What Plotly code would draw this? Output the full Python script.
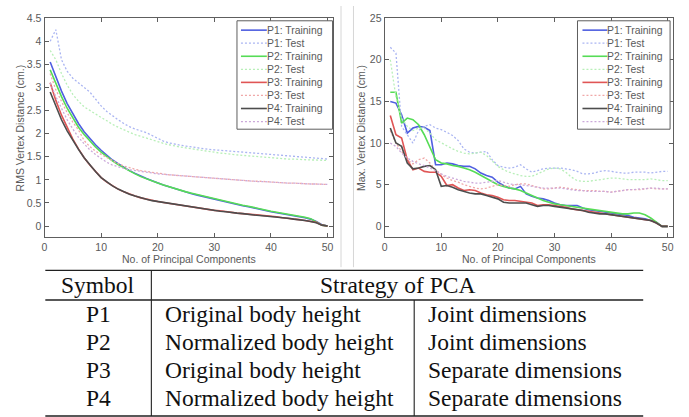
import plotly.graph_objects as go

W, H = 689, 417

# ---------------- data ----------------
n_components = list(range(1, 51))

rms_p1_train = [3.55, 3.22, 2.92, 2.65, 2.42, 2.22, 2.04, 1.89, 1.76, 1.64,
                1.53, 1.43, 1.35, 1.27, 1.20, 1.14, 1.08, 1.03, 0.98, 0.93,
                0.89, 0.85, 0.81, 0.77, 0.74, 0.70, 0.67, 0.64, 0.61, 0.58,
                0.55, 0.52, 0.50, 0.47, 0.44, 0.42, 0.39, 0.37, 0.34, 0.31,
                0.29, 0.27, 0.25, 0.23, 0.21, 0.18, 0.15, 0.10, 0.03, 0.00]
rms_p2_train = [3.38, 3.08, 2.80, 2.55, 2.33, 2.14, 1.98, 1.84, 1.71, 1.60,
                1.50, 1.41, 1.33, 1.26, 1.19, 1.13, 1.07, 1.02, 0.97, 0.93,
                0.89, 0.85, 0.81, 0.77, 0.74, 0.71, 0.68, 0.65, 0.62, 0.59,
                0.56, 0.53, 0.51, 0.48, 0.45, 0.43, 0.40, 0.38, 0.35, 0.32,
                0.30, 0.28, 0.26, 0.24, 0.22, 0.19, 0.16, 0.09, 0.02, 0.00]
rms_p3_train = [3.10, 2.72, 2.40, 2.12, 1.88, 1.67, 1.48, 1.32, 1.18, 1.05,
                0.95, 0.87, 0.80, 0.74, 0.69, 0.65, 0.61, 0.58, 0.55, 0.53,
                0.51, 0.49, 0.47, 0.45, 0.43, 0.41, 0.39, 0.37, 0.36, 0.34,
                0.33, 0.31, 0.30, 0.28, 0.27, 0.26, 0.25, 0.23, 0.22, 0.21,
                0.20, 0.18, 0.17, 0.16, 0.14, 0.12, 0.10, 0.08, 0.02, 0.00]
rms_p4_train = [2.90, 2.58, 2.30, 2.06, 1.85, 1.66, 1.48, 1.32, 1.18, 1.05,
                0.95, 0.87, 0.80, 0.74, 0.69, 0.65, 0.61, 0.58, 0.55, 0.53,
                0.51, 0.49, 0.47, 0.45, 0.43, 0.41, 0.39, 0.37, 0.35, 0.34,
                0.32, 0.31, 0.29, 0.28, 0.27, 0.25, 0.24, 0.23, 0.22, 0.21,
                0.19, 0.18, 0.17, 0.15, 0.14, 0.12, 0.10, 0.07, 0.02, 0.00]
rms_p1_test = [4.00, 4.25, 3.60, 3.35, 3.20, 3.10, 3.02, 2.90, 2.75, 2.60,
               2.48, 2.38, 2.30, 2.22, 2.15, 2.10, 2.06, 2.02, 1.96, 1.90,
               1.84, 1.80, 1.77, 1.75, 1.73, 1.71, 1.69, 1.68, 1.66, 1.65,
               1.64, 1.63, 1.62, 1.61, 1.60, 1.59, 1.58, 1.56, 1.55, 1.54,
               1.53, 1.52, 1.51, 1.50, 1.49, 1.48, 1.47, 1.46, 1.45, 1.45]
rms_p2_test = [3.80, 3.60, 3.30, 3.05, 2.85, 2.70, 2.58, 2.50, 2.42, 2.35,
               2.28, 2.20, 2.14, 2.08, 2.03, 1.98, 1.94, 1.90, 1.86, 1.82,
               1.79, 1.76, 1.73, 1.71, 1.69, 1.67, 1.65, 1.63, 1.61, 1.60,
               1.58, 1.57, 1.55, 1.54, 1.53, 1.52, 1.50, 1.49, 1.48, 1.47,
               1.46, 1.46, 1.45, 1.45, 1.44, 1.44, 1.43, 1.43, 1.42, 1.42]
rms_p3_test = [3.30, 2.95, 2.70, 2.45, 2.25, 2.08, 1.85, 1.72, 1.62, 1.55,
               1.48, 1.42, 1.35, 1.30, 1.26, 1.23, 1.20, 1.18, 1.16, 1.14,
               1.12, 1.11, 1.10, 1.09, 1.08, 1.07, 1.06, 1.05, 1.04, 1.03,
               1.02, 1.01, 1.00, 1.00, 0.99, 0.98, 0.97, 0.97, 0.96, 0.95,
               0.95, 0.94, 0.93, 0.93, 0.92, 0.92, 0.91, 0.91, 0.90, 0.90]
rms_p4_test = [3.10, 2.80, 2.55, 2.30, 2.10, 1.92, 1.78, 1.65, 1.55, 1.47,
               1.38, 1.32, 1.28, 1.25, 1.22, 1.20, 1.18, 1.16, 1.14, 1.13,
               1.12, 1.11, 1.10, 1.09, 1.08, 1.07, 1.06, 1.05, 1.04, 1.03,
               1.02, 1.01, 1.00, 0.99, 0.99, 0.98, 0.97, 0.96, 0.96, 0.95,
               0.94, 0.94, 0.93, 0.93, 0.92, 0.92, 0.91, 0.91, 0.90, 0.90]

max_p1_train = [15.0, 14.8, 13.4, 11.2, 11.8, 12.0, 11.9, 11.5, 7.4, 7.4,
                7.6, 7.5, 7.3, 7.2, 7.2, 6.9, 6.4, 6.1, 5.9, 5.3,
                4.9, 4.6, 4.5, 4.8, 3.9, 3.6, 3.4, 3.3, 3.1, 2.8,
                2.6, 2.5, 2.5, 2.5, 2.2, 2.0, 1.9, 1.8, 1.7, 1.6,
                1.5, 1.4, 1.3, 1.1, 1.0, 0.9, 0.7, 0.5, 0.0, 0.0]
max_p2_train = [16.1, 16.1, 12.4, 13.0, 12.8, 12.2, 11.0, 9.5, 8.0, 7.6,
                7.5, 7.3, 7.2, 7.0, 6.8, 6.5, 6.1, 5.7, 5.3, 5.0,
                4.8, 4.6, 4.5, 4.3, 4.0, 3.7, 3.4, 3.1, 2.9, 2.7,
                2.6, 2.5, 2.4, 2.3, 2.2, 2.1, 2.0, 1.9, 1.8, 1.7,
                1.6, 1.5, 1.5, 1.6, 1.6, 1.4, 1.0, 0.5, 0.0, 0.0]
max_p3_train = [13.3, 11.0, 10.6, 8.0, 6.8, 7.0, 6.6, 6.5, 6.5, 6.0,
                4.9, 5.0, 4.6, 4.3, 4.4, 4.3, 4.0, 3.8, 3.7, 3.5,
                3.2, 3.1, 3.1, 3.0, 2.9, 2.8, 2.5, 2.6, 2.6, 2.5,
                2.4, 2.3, 2.1, 2.0, 1.9, 1.8, 1.7, 1.6, 1.5, 1.4,
                1.3, 1.2, 1.1, 1.0, 0.9, 0.8, 0.7, 0.4, 0.0, 0.0]
max_p4_train = [11.8, 10.0, 9.6, 7.6, 6.9, 7.0, 7.2, 7.3, 6.8, 4.8,
                4.9, 4.7, 4.4, 4.2, 4.0, 3.9, 3.9, 3.7, 3.5, 3.3,
                2.9, 2.8, 2.8, 2.8, 2.8, 2.6, 2.4, 2.5, 2.5, 2.4,
                2.3, 2.2, 2.1, 2.0, 1.9, 1.7, 1.6, 1.5, 1.5, 1.4,
                1.3, 1.2, 1.1, 1.0, 0.9, 0.8, 0.7, 0.4, 0.0, 0.0]
max_p1_test = [21.5, 20.8, 12.0, 11.0, 10.0, 11.5, 12.0, 12.2, 11.8, 11.6,
               11.3, 10.9, 10.3, 9.3, 8.9, 8.8, 8.9, 9.0, 8.0, 7.3,
               7.1, 7.0, 7.1, 7.4, 6.9, 6.5, 6.7, 6.9, 7.0, 7.0,
               7.0, 6.9, 6.8, 6.6, 6.3, 6.3, 6.4, 6.6, 6.7, 6.6,
               6.5, 6.4, 6.4, 6.5, 6.5, 6.5, 6.4, 6.5, 6.6, 6.6]
max_p2_test = [20.0, 15.5, 13.0, 12.0, 11.5, 11.8, 11.8, 11.2, 10.4, 10.0,
               9.6, 9.3, 9.0, 8.8, 8.7, 8.8, 8.9, 8.5, 7.8, 7.2,
               6.8, 6.5, 6.3, 6.1, 6.0, 6.0, 6.3, 6.6, 6.9, 7.0,
               6.9, 6.5, 5.9, 5.5, 5.4, 5.4, 5.5, 5.6, 5.7, 5.8,
               5.8, 5.7, 5.6, 5.6, 5.6, 5.6, 5.7, 5.6, 5.5, 5.5]
max_p3_test = [11.5, 10.0, 9.0, 8.0, 7.5, 8.0, 8.2, 7.6, 6.8, 6.2,
               5.8, 5.5, 5.3, 5.0, 4.8, 4.6, 4.5, 4.6, 4.8, 5.0,
               4.9, 4.8, 5.0, 5.1, 5.1, 4.9, 4.7, 4.5, 4.5, 4.6,
               4.7, 4.6, 4.5, 4.4, 4.3, 4.3, 4.3, 4.2, 4.2, 4.1,
               4.2, 4.3, 4.4, 4.4, 4.4, 4.5, 4.6, 4.5, 4.5, 4.5]
max_p4_test = [10.0, 9.6, 8.8, 8.2, 7.8, 7.5, 7.3, 7.0, 6.7, 6.3,
               6.0, 5.8, 5.6, 5.4, 5.3, 5.2, 5.2, 5.3, 5.4, 5.5,
               5.3, 5.1, 5.0, 5.0, 4.9, 4.8, 4.7, 4.6, 4.6, 4.6,
               4.6, 4.5, 4.4, 4.3, 4.3, 4.2, 4.2, 4.2, 4.2, 4.1,
               4.2, 4.3, 4.4, 4.4, 4.5, 4.5, 4.6, 4.6, 4.5, 4.5]

series_names = ["P1: Training", "P1: Test", "P2: Training", "P2: Test",
                "P3: Training", "P3: Test", "P4: Training", "P4: Test"]
rms_series = [rms_p1_train, rms_p1_test, rms_p2_train, rms_p2_test,
              rms_p3_train, rms_p3_test, rms_p4_train, rms_p4_test]
max_series = [max_p1_train, max_p1_test, max_p2_train, max_p2_test,
              max_p3_train, max_p3_test, max_p4_train, max_p4_test]

x_ticks = [0, 10, 20, 30, 40, 50]
rms_ticks = [0, 0.5, 1, 1.5, 2, 2.5, 3, 3.5, 4, 4.5]
rms_tick_labels = ["0", "0.5", "1", "1.5", "2", "2.5", "3", "3.5", "4", "4.5"]
max_ticks = [0, 5, 10, 15, 20, 25]

x_title = "No. of Principal Components"
rms_title = "RMS Vertex Distance (cm.)"
max_title = "Max. Vertex Distance (cm.)"

table_header = ["Symbol", "Strategy of PCA"]
table_symbols = ["P1", "P2", "P3", "P4"]
table_height_mode = ["Original body height", "Normalized body height",
                     "Original body height", "Normalized body height"]
table_dim_mode = ["Joint dimensions", "Joint dimensions",
                  "Separate dimensions", "Separate dimensions"]

# ---------------- styles ----------------
styles = [
    dict(color="#4f5fe0", width=1.6, dash="solid"),
    dict(color="#aab5f2", width=1.3, dash="2px,2px"),
    dict(color="#56dc56", width=1.6, dash="solid"),
    dict(color="#b8efb8", width=1.3, dash="2px,2px"),
    dict(color="#e05555", width=1.6, dash="solid"),
    dict(color="#f0a8a8", width=1.3, dash="2px,2px"),
    dict(color="#4d4d4d", width=1.6, dash="solid"),
    dict(color="#cba9da", width=1.3, dash="2px,2px"),
]
AX = "#5e5e5e"
TXT = "#5a5a5a"
SANS = "Liberation Sans, Arial, sans-serif"
SERIF = "Liberation Serif, Times New Roman, serif"


def px(x):
    return x / W


def py(y):
    return 1 - y / H


fig = go.Figure()
for name, vals, st in zip(series_names, rms_series, styles):
    fig.add_trace(go.Scatter(x=n_components, y=vals, mode="lines", name=name,
                             line=st, xaxis="x", yaxis="y", showlegend=False))
for name, vals, st in zip(series_names, max_series, styles):
    fig.add_trace(go.Scatter(x=n_components, y=vals, mode="lines", name=name,
                             line=st, xaxis="x2", yaxis="y2", showlegend=False))

axis_common = dict(showline=True, linecolor=AX, linewidth=1, mirror="ticks",
                   ticks="inside", ticklen=4, tickcolor=AX, tickwidth=1,
                   showgrid=False, zeroline=False,
                   tickfont=dict(family=SANS, size=10.5, color=TXT))

L0, L1 = 41.7, 331.7
R0, R1 = 383.3, 673.3
T, B = 12.3, 234.3

fig.update_layout(
    width=W, height=H, margin=dict(l=0, r=0, t=0, b=0),
    paper_bgcolor="white", plot_bgcolor="white", showlegend=False,
    xaxis=dict(domain=[px(L0), px(L1)], range=[0, 51], tickvals=x_ticks,
               anchor="y", **axis_common),
    yaxis=dict(domain=[py(B), py(T)], range=[-0.235, 4.5], tickvals=rms_ticks,
               ticktext=rms_tick_labels, anchor="x", **axis_common),
    xaxis2=dict(domain=[px(R0), px(R1)], range=[0, 51], tickvals=x_ticks,
                anchor="y2", **axis_common),
    yaxis2=dict(domain=[py(B), py(T)], range=[-1.27, 25], tickvals=max_ticks,
                anchor="x2", **axis_common),
)

shapes = []
annotations = []

# axis titles
annotations.append(dict(x=px((L0 + L1) / 2), y=py(257), xref="paper", yref="paper",
                        text=x_title, showarrow=False, xanchor="center", yanchor="middle",
                        font=dict(family=SANS, size=10.5, color=TXT)))
annotations.append(dict(x=px((R0 + R1) / 2), y=py(257), xref="paper", yref="paper",
                        text=x_title, showarrow=False, xanchor="center", yanchor="middle",
                        font=dict(family=SANS, size=10.5, color=TXT)))
annotations.append(dict(x=px(17), y=py((T + B) / 2), xref="paper", yref="paper",
                        text=rms_title, showarrow=False, textangle=-90,
                        xanchor="center", yanchor="middle",
                        font=dict(family=SANS, size=10.5, color=TXT)))
annotations.append(dict(x=px(359), y=py((T + B) / 2), xref="paper", yref="paper",
                        text=max_title, showarrow=False, textangle=-90,
                        xanchor="center", yanchor="middle",
                        font=dict(family=SANS, size=10.5, color=TXT)))

# manual legends
for (bx0, bx1, sx0, sx1, tx) in [(235, 331, 239, 265, 263), (577, 670, 582, 607, 605)]:
    shapes.append(dict(type="rect", xref="paper", yref="paper",
                       x0=px(bx0), x1=px(bx1), y0=py(125), y1=py(15),
                       line=dict(color=AX, width=1), fillcolor="white", layer="above"))
    for i, (name, st) in enumerate(zip(series_names, styles)):
        yy = 24.5 + i * 13.25
        shapes.append(dict(type="line", xref="paper", yref="paper",
                           x0=px(sx0), x1=px(sx1), y0=py(yy), y1=py(yy),
                           line=dict(color=st["color"], width=st["width"], dash=st["dash"]),
                           layer="above"))
        annotations.append(dict(x=px(tx), y=py(yy), xref="paper", yref="paper",
                                text=name, showarrow=False, xanchor="left", yanchor="middle",
                                font=dict(family=SANS, size=10.4, color=TXT)))

# screenshot separators
for xs in [339.5, 352]:
    shapes.append(dict(type="line", xref="paper", yref="paper",
                       x0=px(xs), x1=px(xs), y0=py(0), y1=py(265),
                       line=dict(color="#d6d6d6", width=1)))

# table
TL, TR = 42.5, 643
C1, C2 = 149, 413
Y_TOP, Y_HEAD, Y_BOT = 268.3, 298.3, 416
for yy in [Y_TOP, Y_HEAD, Y_BOT]:
    shapes.append(dict(type="line", xref="paper", yref="paper",
                       x0=px(TL), x1=px(TR), y0=py(yy), y1=py(yy),
                       line=dict(color="#202020", width=1.3)))
shapes.append(dict(type="line", xref="paper", yref="paper",
                   x0=px(C1), x1=px(C1), y0=py(Y_TOP), y1=py(Y_BOT),
                   line=dict(color="#202020", width=1.1)))
shapes.append(dict(type="line", xref="paper", yref="paper",
                   x0=px(C2), x1=px(C2), y0=py(Y_HEAD), y1=py(Y_BOT),
                   line=dict(color="#202020", width=1.1)))

tfont = dict(family=SERIF, size=23.5, color="#111111")
annotations.append(dict(x=px((TL + C1) / 2), y=py(283), xref="paper", yref="paper",
                        text=table_header[0], showarrow=False, xanchor="center",
                        yanchor="middle", font=tfont))
annotations.append(dict(x=px((C1 + TR) / 2), y=py(283), xref="paper", yref="paper",
                        text=table_header[1], showarrow=False, xanchor="center",
                        yanchor="middle", font=tfont))
for i in range(4):
    yy = 312 + i * 28.5
    annotations.append(dict(x=px((TL + C1) / 2), y=py(yy), xref="paper", yref="paper",
                            text=table_symbols[i], showarrow=False, xanchor="center",
                            yanchor="middle", font=tfont))
    annotations.append(dict(x=px(161), y=py(yy), xref="paper", yref="paper",
                            text=table_height_mode[i], showarrow=False, xanchor="left",
                            yanchor="middle", font=tfont))
    annotations.append(dict(x=px(425), y=py(yy), xref="paper", yref="paper",
                            text=table_dim_mode[i], showarrow=False, xanchor="left",
                            yanchor="middle", font=tfont))

fig.update_layout(shapes=shapes, annotations=annotations)
fig.write_html("out.html", config={"displayModeBar": False},
               post_script="document.body.style.margin='0';document.body.style.overflow='hidden';")
